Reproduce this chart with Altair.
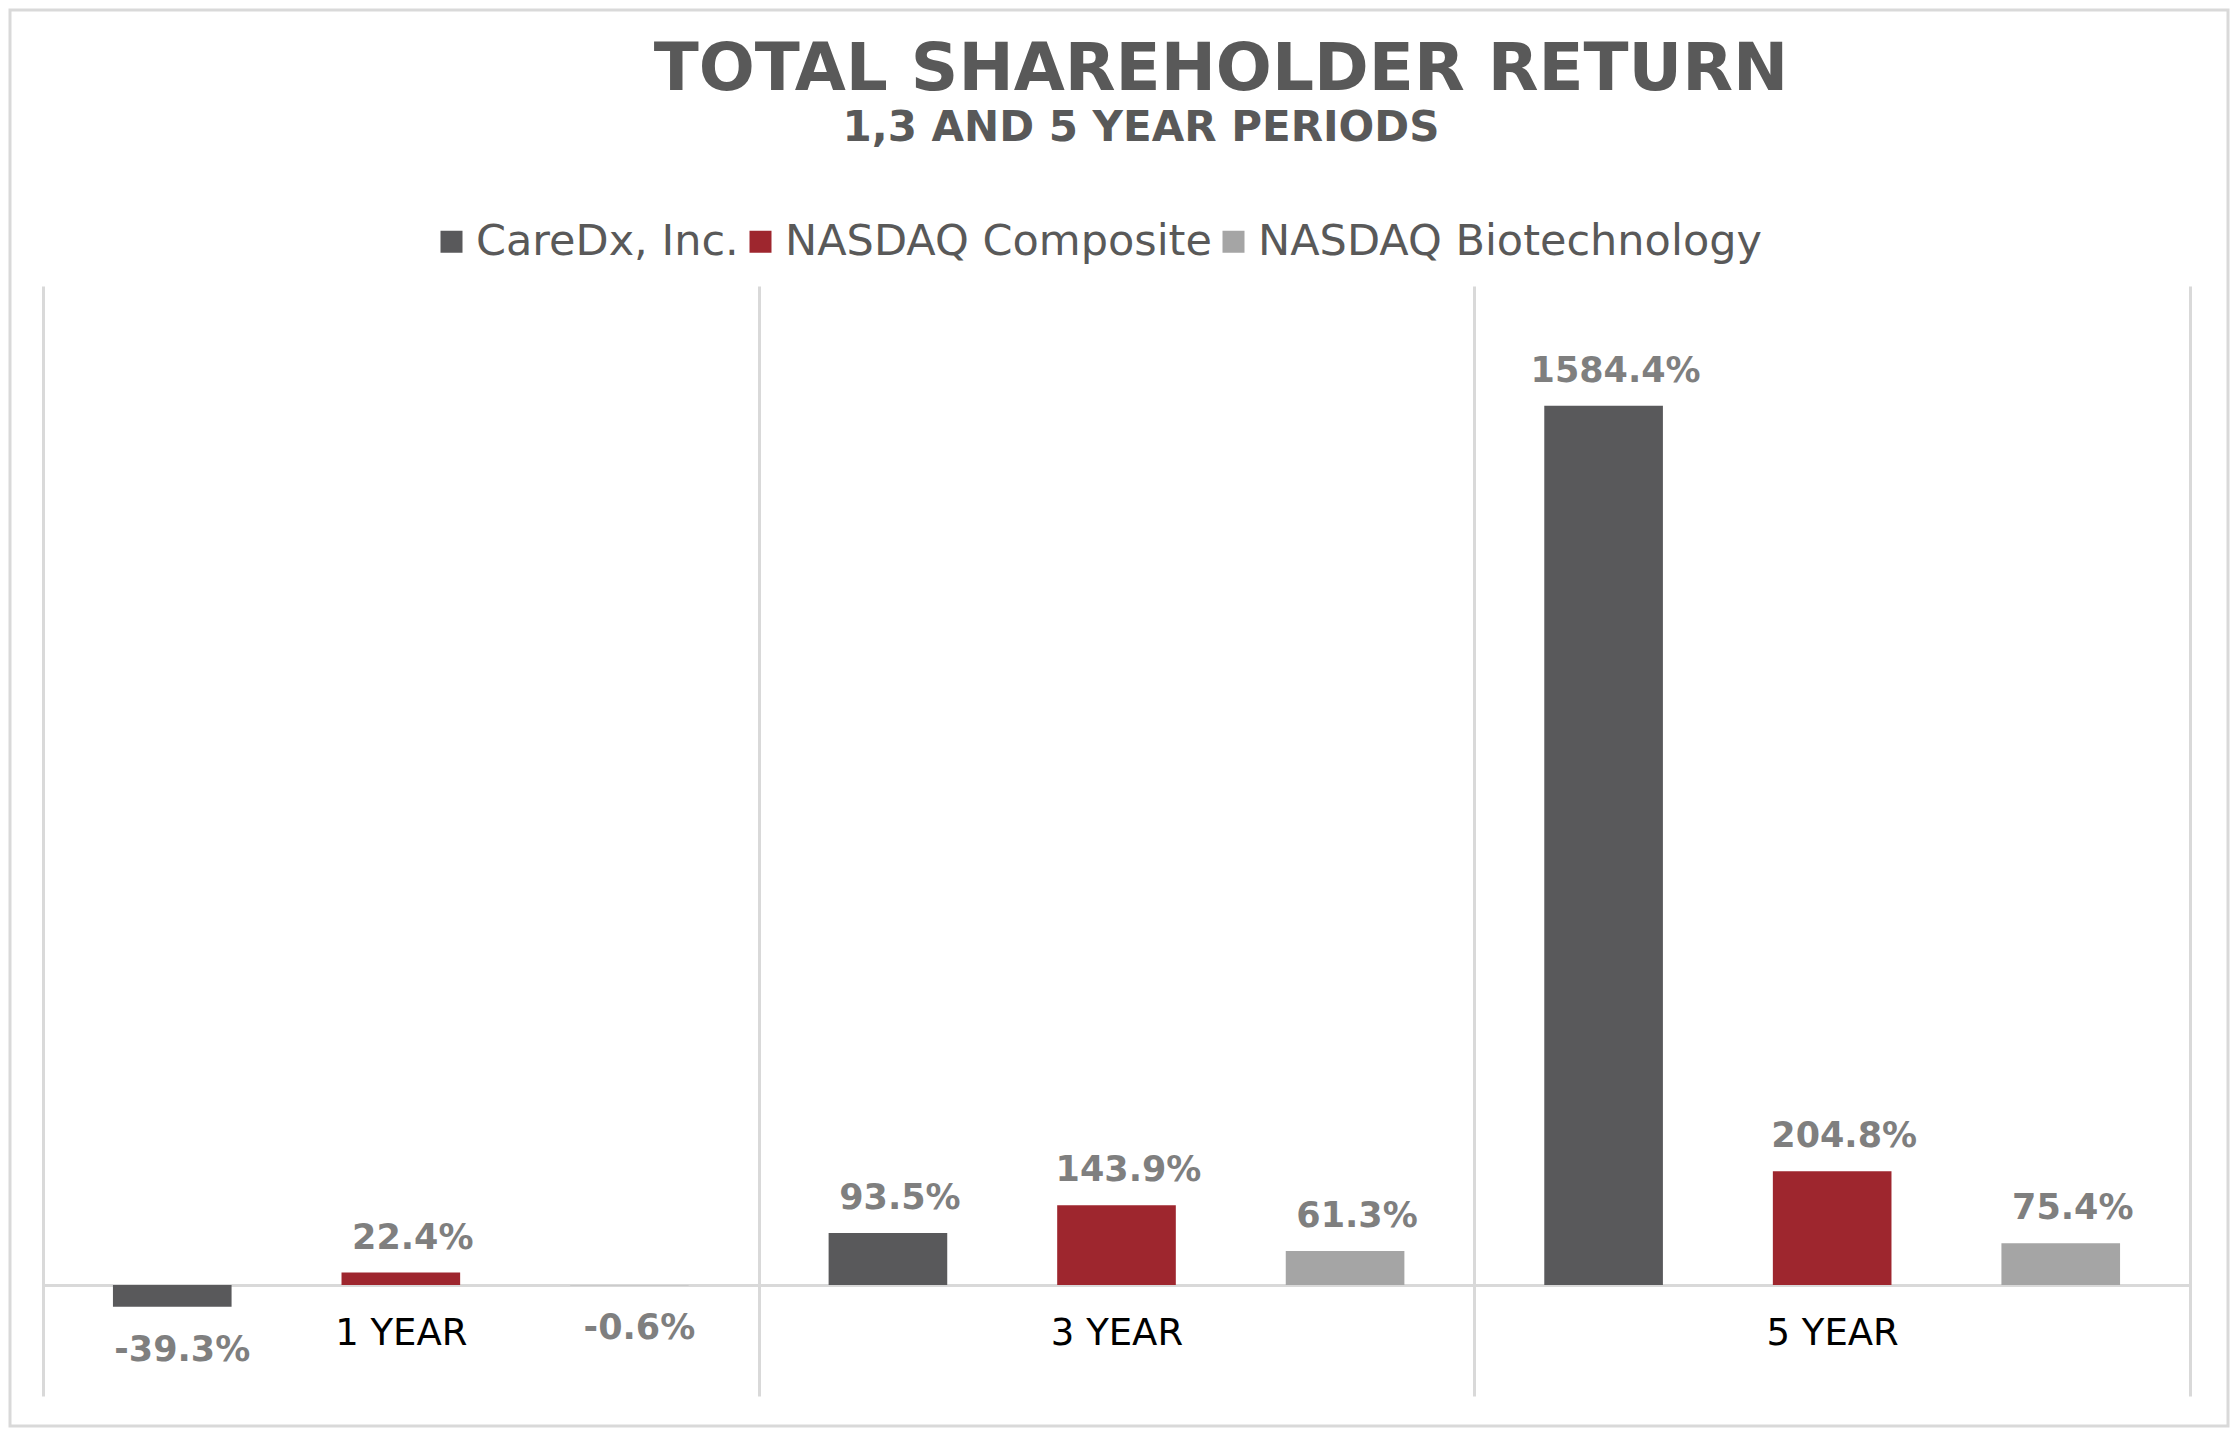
import altair as alt
import pandas as pd

PERIODS = ["1 YEAR", "3 YEAR", "5 YEAR"]
SERIES = ["CareDx, Inc.", "NASDAQ Composite", "NASDAQ Biotechnology"]
CAREDX = [-39.3, 93.5, 1584.4]
NASDAQ_COMP = [22.4, 143.9, 204.8]
NASDAQ_BIO = [-0.6, 61.3, 75.4]
COLORS = ["#59595B", "#9E262E", "#A5A5A5"]
TITLE = "TOTAL SHAREHOLDER RETURN"
SUBTITLE = "1,3 AND 5 YEAR PERIODS"

rows = []
for s, vals in zip(SERIES, [CAREDX, NASDAQ_COMP, NASDAQ_BIO]):
    for p, v in zip(PERIODS, vals):
        rows.append({"period": p, "series": s, "value": v})
df = pd.DataFrame(rows)

FONT = "DejaVu Sans"
W, H = 2147, 1110

x = alt.X(
    "period:N", sort=PERIODS,
    scale=alt.Scale(paddingInner=0, paddingOuter=0),
    axis=alt.Axis(
        title=None, orient="bottom", offset=-111,
        domainColor="#D9D9D9", domainWidth=3, ticks=False,
        grid=True, gridColor="#D9D9D9", gridWidth=3, tickBand="extent",
        labelFont=FONT, labelFontSize=37, labelColor="#000000",
        labelPadding=30, labelAngle=0,
    ),
)
xo = alt.XOffset("series:N", sort=SERIES,
                 scale=alt.Scale(paddingInner=0.481, paddingOuter=0.306))
y = alt.Y("value:Q", scale=alt.Scale(domain=[-200, 1800], nice=False, zero=False),
          axis=None)
color = alt.Color(
    "series:N", sort=SERIES,
    scale=alt.Scale(domain=SERIES, range=COLORS),
    legend=alt.Legend(
        title=None, orient="none", legendX=387, legendY=-66,
        direction="horizontal", symbolType="square", symbolSize=484,
        symbolStrokeWidth=0, symbolOpacity=1,
        labelFont=FONT, labelFontSize=43, labelColor="#595959",
        labelOffset=3, columnPadding=-20, labelLimit=800,
    ),
)

base = alt.Chart(df).transform_calculate(
    label="(datum.value < 0 ? '-' : '') + format(abs(datum.value), '.1f') + '%'"
)

bars = base.mark_bar().encode(x=x, xOffset=xo, y=y, color=color)

pos_labels = base.transform_filter("datum.value >= 0").mark_text(
    font=FONT, fontSize=35, fontWeight="bold", color="#7F7F7F",
    baseline="alphabetic", align="center", dy=-24, dx=12,
).encode(x=x, xOffset=xo, y=y, text="label:N")

neg_labels = base.transform_filter("datum.value < 0").mark_text(
    font=FONT, fontSize=35, fontWeight="bold", color="#7F7F7F",
    baseline="top", align="center", dy=26, dx=10,
).encode(x=x, xOffset=xo, y=y, text="label:N")

one = pd.DataFrame({"t": [TITLE], "s": [SUBTITLE]})

title_mark = alt.Chart(one).mark_text(
    font=FONT, fontSize=66, fontWeight="bold", color="#595959",
    align="center", baseline="alphabetic",
).encode(text="t:N", x=alt.value(1178), y=alt.value(-196))

subtitle_mark = alt.Chart(one).mark_text(
    font=FONT, fontSize=42, fontWeight="bold", color="#595959",
    align="center", baseline="alphabetic",
).encode(text="s:N", x=alt.value(1098), y=alt.value(-145))

frame = alt.Chart(one).mark_rect(
    fill=None, stroke="#D9D9D9", strokeWidth=3,
).encode(x=alt.value(-33), x2=alt.value(W + 38), y=alt.value(-276), y2=alt.value(H + 30))

chart = alt.layer(frame, bars, pos_labels, neg_labels, title_mark, subtitle_mark).properties(
    width=W, height=H,
    autosize=alt.AutoSizeParams(type="none"),
    padding={"left": 35, "top": 278, "right": 40, "bottom": 33},
).configure_view(stroke=None)

chart.save("out.html", embed_options={"renderer": "svg", "actions": False})
